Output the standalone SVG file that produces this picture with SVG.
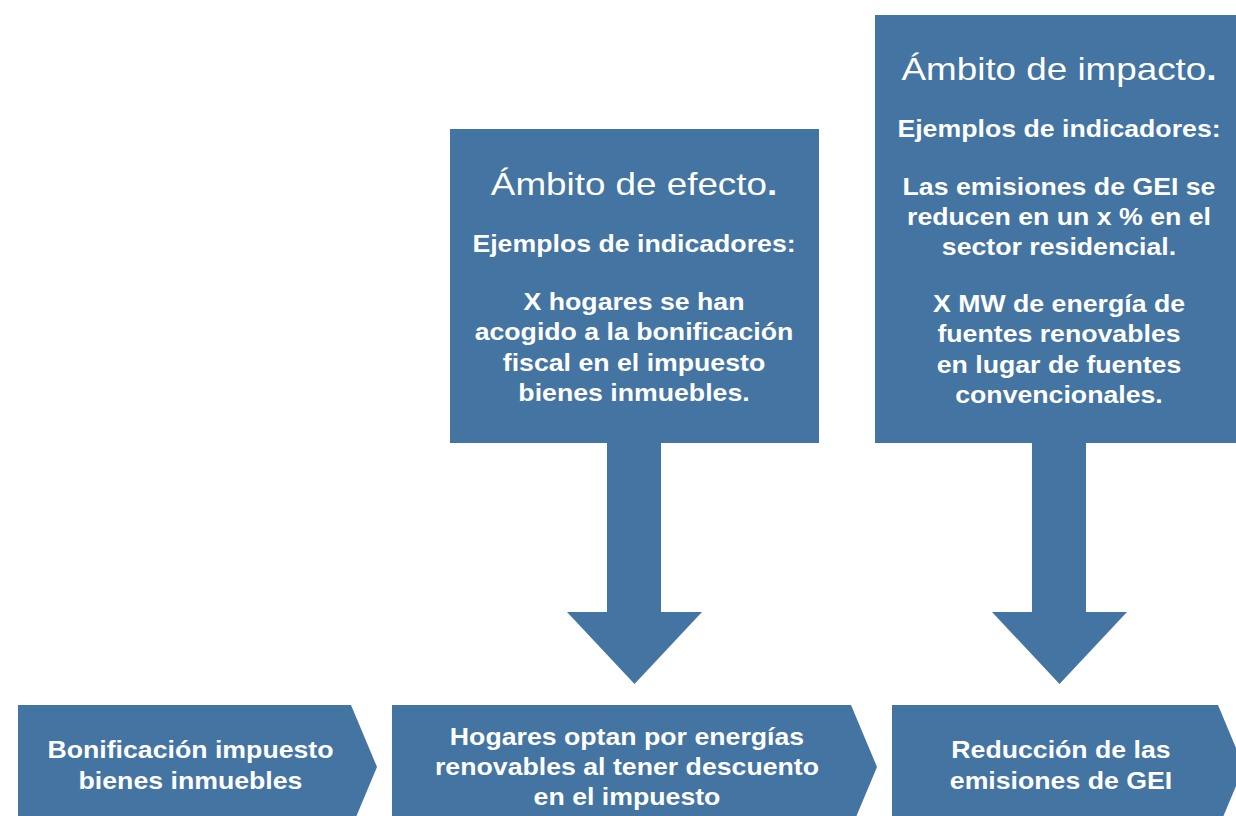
<svg xmlns="http://www.w3.org/2000/svg" width="1236" height="816" viewBox="0 0 1236 816">
<style>
.shape{fill:#4474A1;}
.t{font-family:"Liberation Sans",Arial,sans-serif;fill:#ffffff;text-anchor:middle;}
.b{font-weight:bold;font-size:23.2px;}
.h{font-weight:normal;font-size:32px;}
</style>
<rect width="1236" height="816" fill="#ffffff"/>
<g id="connectors">
<polygon class="shape" points="607,443 661,443 661,612 702,612 634.5,684 567,612 607,612"/>
<polygon class="shape" points="1032,443 1086,443 1086,612 1127,612 1059.5,684 992,612 1032,612"/>
</g>
<g id="efecto">
<rect class="shape" x="450" y="129" width="369" height="314"/>
<g transform="translate(634 0) scale(1.15 1)">
<text class="t h" x="0" y="195">Ámbito de efecto<tspan font-weight="bold">.</tspan></text>
<text class="t b" x="0" y="252">Ejemplos de indicadores:</text>
<text class="t b" x="0" y="310">X hogares se han</text>
<text class="t b" x="0" y="340.5">acogido a la bonificación</text>
<text class="t b" x="0" y="371">fiscal en el impuesto</text>
<text class="t b" x="0" y="401.5">bienes inmuebles.</text>
</g>
</g>
<g id="impacto">
<rect class="shape" x="875" y="15" width="361" height="428"/>
<g transform="translate(1059 0) scale(1.15 1)">
<text class="t h" x="0" y="80">Ámbito de impacto<tspan font-weight="bold">.</tspan></text>
<text class="t b" x="0" y="137">Ejemplos de indicadores:</text>
<text class="t b" x="0" y="195">Las emisiones de GEI se</text>
<text class="t b" x="0" y="225">reducen en un x % en el</text>
<text class="t b" x="0" y="255">sector residencial.</text>
<text class="t b" x="0" y="312">X MW de energía de</text>
<text class="t b" x="0" y="342.5">fuentes renovables</text>
<text class="t b" x="0" y="373">en lugar de fuentes</text>
<text class="t b" x="0" y="403.5">convencionales.</text>
</g>
</g>
<g id="bonificacion">
<polygon class="shape" points="18,705 351,705 377,767 351,829 18,829"/>
<g transform="translate(190.5 0) scale(1.15 1)">
<text class="t b" x="0" y="758">Bonificación impuesto</text>
<text class="t b" x="0" y="789">bienes inmuebles</text>
</g>
</g>
<g id="hogares">
<polygon class="shape" points="392,705 851,705 877,767 851,829 392,829"/>
<g transform="translate(627 0) scale(1.15 1)">
<text class="t b" x="0" y="745">Hogares optan por energías</text>
<text class="t b" x="0" y="775">renovables al tener descuento</text>
<text class="t b" x="0" y="805">en el impuesto</text>
</g>
</g>
<g id="reduccion">
<polygon class="shape" points="892,705 1218,705 1244,767 1218,829 892,829"/>
<g transform="translate(1061 0) scale(1.15 1)">
<text class="t b" x="0" y="758">Reducción de las</text>
<text class="t b" x="0" y="789">emisiones de GEI</text>
</g>
</g>
</svg>
